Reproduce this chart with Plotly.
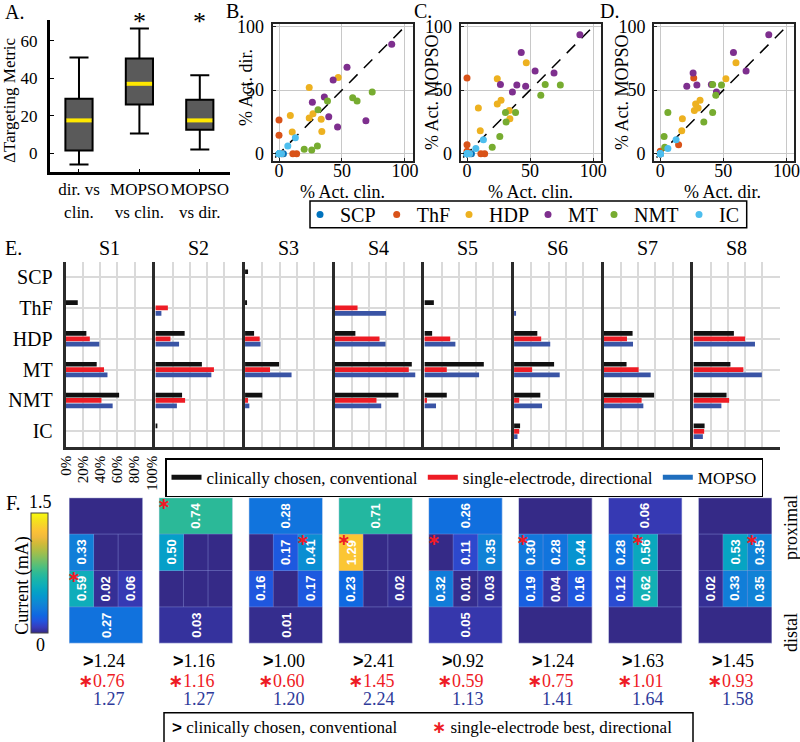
import plotly.graph_objects as go

W, H = 800, 742
SERIF = "Liberation Serif"
SANS = "Liberation Sans"
STAR = "<span style='font-family:DejaVu Sans;font-weight:bold'>∗</span>"


def px(p):
    return p / W


def py(p):
    return 1 - p / H


# ---------------- data ----------------
comparisons = ["dir. vs<br>clin.", "MOPSO<br>vs clin.", "MOPSO<br>vs dir."]
box_upper = [51, 66.5, 41.5]
box_q3 = [29, 50.5, 28.5]
box_median = [17.5, 37, 17.5]
box_q1 = [1.5, 26, 12.5]
box_lower = [-6, 10.5, 2]
significant = [False, True, True]

regions = ["SCP", "ThF", "HDP", "MT", "NMT", "IC"]
region_colors = ["#0072BD", "#D95319", "#EDB120", "#7E2F8E", "#77AC30", "#4DBEEE"]
subjects = ["S1", "S2", "S3", "S4", "S5", "S6", "S7", "S8"]

# % activation per subject, ordered as regions
act_clin = [
    [0, 14, 24, 36, 62, 0],
    [0, 0, 34, 54, 31, 2],
    [3.5, 2, 10.5, 39.5, 20, 0],
    [0, 0, 24, 89.5, 74, 0],
    [0, 11, 9, 69, 26, 0],
    [0, 0, 27, 46.5, 30.5, 7],
    [0, 0, 33.5, 26.5, 58.5, 0],
    [0, 0, 47, 43, 38.5, 13],
]
act_dir = [
    [0, 0, 28, 44.5, 41.5, 0],
    [0, 14.5, 17.5, 68, 34.5, 0],
    [0, 0, 17, 29, 3.5, 0],
    [0, 26.5, 52, 86, 48.5, 0],
    [0, 0, 30, 26, 3, 0],
    [0, 0, 31.5, 21, 6, 6],
    [0, 0, 27, 40.5, 44, 0],
    [0, 0, 60, 58, 41.5, 12.5],
]
act_mopso = [
    [0, 0, 39, 48.5, 54.5, 0],
    [0, 7, 27.5, 65, 25, 0],
    [0, 0, 18, 54, 5, 0],
    [0, 59.5, 59, 93.5, 54, 0],
    [0, 0, 36, 63.5, 13.5, 0],
    [0, 2, 42, 53, 32.5, 4],
    [0, 0, 34, 54.5, 46, 0],
    [0, 0, 71.5, 79.5, 32.5, 11],
]
methods = ["clinically chosen, conventional", "single-electrode, directional", "MOPSO"]
bar_colors = ["#111111", "#EE1C25", "#3A54A5"]
method_legend_colors = ["#111111", "#EE1C25", "#1F6EBE"]

# electrode currents (mA): top ring, upper segments, lower segments, bottom ring
ring_top = [0, 0.74, 0.28, 0.71, 0.26, 0, 0.06, 0]
seg_upper = [[0.33, 0, 0], [0.50, 0, 0], [0, 0.17, 0.41], [1.29, 0, 0],
             [0, 0.11, 0.35], [0.30, 0.28, 0.44], [0.28, 0.56, 0], [0, 0.53, 0.35]]
seg_lower = [[0.59, 0.02, 0.06], [0, 0, 0], [0.16, 0, 0.17], [0.23, 0, 0.02],
             [0.32, 0.01, 0.03], [0.19, 0.04, 0.16], [0.12, 0.62, 0], [0.02, 0.33, 0.35]]
ring_bottom = [0.27, 0.03, 0.01, 0, 0.05, 0, 0, 0]
conv_row = [1, 1, 1, 2, 0, 1, 2, 2]
best_row = [2, 0, 1, 1, 1, 1, 1, 1]
best_col = [0, 0, 2, 0, 0, 0, 1, 2]
total_clin = [1.24, 1.16, 1.00, 2.41, 0.92, 1.24, 1.63, 1.45]
total_dir = [0.76, 1.16, 0.60, 1.45, 0.59, 0.75, 1.01, 0.93]
total_mopso = [1.27, 1.27, 1.20, 2.24, 1.13, 1.41, 1.64, 1.58]

parula = [
    [0.00, "rgb(53,42,135)"], [0.05, "rgb(54,61,190)"], [0.10, "rgb(34,84,222)"],
    [0.15, "rgb(15,104,225)"], [0.20, "rgb(18,120,219)"], [0.25, "rgb(15,135,212)"],
    [0.30, "rgb(5,150,207)"], [0.35, "rgb(5,163,196)"], [0.40, "rgb(15,174,184)"],
    [0.45, "rgb(26,181,168)"], [0.50, "rgb(46,186,150)"], [0.55, "rgb(77,191,127)"],
    [0.60, "rgb(112,191,105)"], [0.65, "rgb(148,191,84)"], [0.70, "rgb(181,189,66)"],
    [0.75, "rgb(212,186,56)"], [0.80, "rgb(240,186,61)"], [0.85, "rgb(252,194,54)"],
    [0.90, "rgb(247,212,41)"], [0.95, "rgb(245,230,26)"], [1.00, "rgb(249,251,14)"],
]

fig = go.Figure()
ann = []
shapes = []

# ---------------- A: box plot ----------------
fig.add_trace(go.Box(
    x=[1, 2, 3], q1=box_q1, median=box_median, q3=box_q3,
    lowerfence=box_lower, upperfence=box_upper,
    width=0.45, whiskerwidth=0.7, boxpoints=False,
    fillcolor="#5a5a5a", line=dict(color="black", width=2),
    xaxis="x", yaxis="y", showlegend=False,
))
mx, my = [], []
for i, m in enumerate(box_median):
    mx += [i + 1 - 0.21, i + 1 + 0.21, None]
    my += [m, m, None]
fig.add_trace(go.Scatter(x=mx, y=my, mode="lines", line=dict(color="#FFE800", width=4),
                         xaxis="x", yaxis="y", showlegend=False))
for i, sig in enumerate(significant):
    if sig:
        ann.append(dict(x=i + 1, y=70, xref="x", yref="y", text="*",
                        font=dict(size=26, family=SERIF)))

# ---------------- B, C, D: scatter ----------------
pairs = [(act_clin, act_dir, 2), (act_clin, act_mopso, 3), (act_dir, act_mopso, 4)]
for xs, ys, k in pairs:
    shapes.append(dict(type="line", x0=-3, y0=-3, x1=100, y1=100, xref=f"x{k}", yref=f"y{k}",
                       line=dict(color="black", width=1.5, dash="12px,9px"), layer="between"))
    for r, name in enumerate(regions):
        fig.add_trace(go.Scatter(
            x=[s[r] for s in xs], y=[s[r] for s in ys], mode="markers",
            marker=dict(color=region_colors[r], size=7), name=name,
            legend=f"legend{r + 3}", showlegend=(k == 2), xaxis=f"x{k}", yaxis=f"y{k}",
        ))

# ---------------- E: bars ----------------
method_data = [act_clin, act_dir, act_mopso]
for s in range(8):
    k = 5 + s
    for m in range(3):
        fig.add_trace(go.Bar(
            x=method_data[m][s], y=list(range(1, 7)), orientation="h",
            marker=dict(color=bar_colors[m], line=dict(width=0)),
            xaxis=f"x{k}", yaxis=f"y{k}", showlegend=False,
        ))
for name, col in zip(methods, method_legend_colors):
    fig.add_trace(go.Scatter(x=[None], y=[None], mode="lines", line=dict(color=col, width=5),
                             name=name, legend="legend2", xaxis="x5", yaxis="y5"))

# ---------------- F: electrode heatmaps ----------------
for s in range(8):
    k = 13 + s
    xr, yr = f"x{k}", f"y{k}"
    z = [[ring_top[s]] * 3, seg_upper[s], seg_lower[s], [ring_bottom[s]] * 3]
    fig.add_trace(go.Heatmap(z=z, x=[0, 1, 2], y=[0, 1, 2, 3], coloraxis="coloraxis",
                             xaxis=xr, yaxis=yr, hoverinfo="skip"))
    lab = dict(xref=xr, yref=yr, textangle=-90,
               font=dict(size=13, family=SANS, color="white", weight="bold"))
    for row, v in ((0, ring_top[s]), (3, ring_bottom[s])):
        if v > 0:
            ann.append(dict(x=1, y=row, text=f"{v:.2f}", **lab))
    for row, vals in ((1, seg_upper[s]), (2, seg_lower[s])):
        for c, v in enumerate(vals):
            if v > 0:
                ann.append(dict(x=c, y=row, text=f"{v:.2f}", **lab))
    for yv in (0.5, 1.5, 2.5):
        shapes.append(dict(type="line", xref=xr, yref=yr, x0=-0.5, x1=2.5, y0=yv, y1=yv,
                           line=dict(color="rgba(140,150,220,0.45)", width=1)))
    for xv in (0.5, 1.5):
        shapes.append(dict(type="line", xref=xr, yref=yr, x0=xv, x1=xv, y0=0.5, y1=2.5,
                           line=dict(color="rgba(140,150,220,0.45)", width=1)))
    shapes.append(dict(type="rect", xref=xr, yref=yr, x0=-0.5, x1=2.5, y0=-0.5, y1=3.5,
                       line=dict(color="rgba(200,210,235,0.9)", width=1)))
    ann.append(dict(x=-0.9, y=conv_row[s], xref=xr, yref=yr, text="<b>&gt;</b>",
                    font=dict(size=22, family=SANS, color="black")))
    ann.append(dict(x=best_col[s] - 0.5 + 0.18, y=best_row[s] - 0.5 + 0.16, xref=xr, yref=yr,
                    text=STAR, font=dict(size=16, color="#EE1C25")))
    right = px(69 + 89.9 * s + 36.85 + 21)
    ann.append(dict(x=right, y=py(660.7), xref="paper", yref="paper", xanchor="right",
                    text=f"<span style='font-family:{SANS}'><b>&gt;</b></span>{total_clin[s]:.2f}",
                    font=dict(size=18, family=SERIF, color="black")))
    ann.append(dict(x=right, y=py(680.7), xref="paper", yref="paper", xanchor="right",
                    text=f"{STAR}{total_dir[s]:.2f}",
                    font=dict(size=18, family=SERIF, color="#EE1C25")))
    ann.append(dict(x=right, y=py(699.3), xref="paper", yref="paper", xanchor="right",
                    text=f"{total_mopso[s]:.2f}",
                    font=dict(size=18, family=SERIF, color="#2E3A9A")))

# ---------------- axes ----------------
axes = {}
axes["xaxis"] = dict(domain=[px(50), px(230)], range=[0.52, 3.5], tickvals=[1, 2, 3],
                     ticktext=comparisons, showline=True, linewidth=3, linecolor="black",
                     ticks="inside", ticklen=3, tickcolor="black", showgrid=False, zeroline=False,
                     tickangle=0, tickfont=dict(size=17, family=SERIF), anchor="y")
axes["yaxis"] = dict(domain=[py(172), py(20)], range=[-10, 71], tickvals=[0, 20, 40, 60],
                     showline=True, linewidth=3, linecolor="black", ticks="inside", ticklen=4,
                     tickcolor="black", showgrid=False, zeroline=False, ticklabelstandoff=6,
                     tickfont=dict(size=17, family=SERIF), anchor="x")

scatter_x = [(272.7, 412.5), (460.7, 600.7), (654, 794)]
for i, (x0, x1) in enumerate(scatter_x):
    k = i + 2
    common = dict(showline=True, mirror=True, linewidth=2, linecolor="#222", showgrid=True,
                  gridcolor="#c8c8c8", gridwidth=1.2, zeroline=False, tickvals=[0, 50, 100],
                  ticks="inside", ticklen=3, tickcolor="#222", tickangle=0,
                  tickfont=dict(size=18, family=SERIF))
    axes[f"xaxis{k}"] = dict(domain=[px(x0), px(x1)], range=[-5, 106], anchor=f"y{k}",
                             ticklabelstandoff=-7, **common)
    axes[f"yaxis{k}"] = dict(domain=[py(160.7), py(24)], range=[-5.5, 102], anchor=f"x{k}",
                             ticklabelstandoff=3, **common)

for s in range(8):
    k = 5 + s
    x0 = 65.7 + 89.67 * s
    axes[f"xaxis{k}"] = dict(domain=[px(x0), px(x0 + 87)], range=[0, 101], anchor=f"y{k}",
                             showline=True, linewidth=3, linecolor="#2b2b2b", showgrid=True,
                             gridcolor="#dadada", gridwidth=2, zeroline=False, dtick=20,
                             ticksuffix="%", tickangle=-90, showticklabels=(s == 0),
                             tickfont=dict(size=15, family=SERIF))
    axes[f"yaxis{k}"] = dict(domain=[py(446.7), py(261.7)], range=[6.5, 0.5], anchor=f"x{k}",
                             tickvals=list(range(1, 7)), ticktext=regions, showline=True,
                             linewidth=3, linecolor="#2b2b2b", showgrid=True, gridcolor="#dadada",
                             gridwidth=2, zeroline=False, showticklabels=(s == 0),
                             ticklabelstandoff=6, tickfont=dict(size=20, family=SERIF))
    ann.append(dict(x=px(x0 + 43.5), y=py(248), xref="paper", yref="paper", text=subjects[s],
                    font=dict(size=20, family=SERIF)))

for s in range(8):
    k = 13 + s
    x0 = 69 + 89.9 * s
    axes[f"xaxis{k}"] = dict(domain=[px(x0), px(x0 + 73.7)], range=[-0.5, 2.5], anchor=f"y{k}",
                             visible=False)
    axes[f"yaxis{k}"] = dict(domain=[py(643.3), py(497.7)], range=[3.5, -0.5], anchor=f"x{k}",
                             visible=False)

for a in axes.values():
    a["automargin"] = False

# ---------------- text ----------------
big = dict(size=20, family=SERIF)
for t, x, y in (("A.", 14, 12), ("B.", 235, 11), ("C.", 423, 11), ("D.", 609, 11),
                ("E.", 13, 248), ("F.", 13, 503)):
    ann.append(dict(x=px(x), y=py(y), xref="paper", yref="paper", text=t, font=big))

lbl = dict(size=18, family=SERIF)
ann.append(dict(x=px(9), y=py(100), xref="paper", yref="paper", text="ΔTargeting Metric",
                textangle=-90, font=dict(size=17, family=SERIF)))
for t, x, y in (("% Act. clin.", 342.6, 192), ("% Act. clin.", 530.7, 192),
                ("% Act. dir.", 722, 192)):
    ann.append(dict(x=px(x), y=py(y), xref="paper", yref="paper", text=t, font=lbl))
for t, x, y in (("% Act. dir.", 246, 88), ("% Act. MOPSO", 432, 92), ("% Act. MOPSO", 622, 92)):
    ann.append(dict(x=px(x), y=py(y), xref="paper", yref="paper", text=t, textangle=-90, font=lbl))

ann.append(dict(x=px(40), y=py(502), xref="paper", yref="paper", text="1.5", font=lbl))
ann.append(dict(x=px(40), y=py(645), xref="paper", yref="paper", text="0", font=lbl))
ann.append(dict(x=px(21.7), y=py(586), xref="paper", yref="paper", text="Current (mA)",
                textangle=-90, font=lbl))
ann.append(dict(x=px(791), y=py(528), xref="paper", yref="paper", text="proximal",
                textangle=-90, font=lbl))
ann.append(dict(x=px(791), y=py(633), xref="paper", yref="paper", text="distal",
                textangle=-90, font=lbl))

# scatter legend frame
shapes.append(dict(type="rect", xref="paper", yref="paper", x0=px(310), x1=px(746.7),
                   y0=py(227.7), y1=py(201), line=dict(color="black", width=1.5)))
# F legend box
leg = dict(size=17, family=SERIF)
shapes.append(dict(type="rect", xref="paper", yref="paper", x0=px(164), x1=px(693),
                   y0=py(748), y1=py(712.7), line=dict(color="black", width=1.5)))
ann.append(dict(x=px(170), y=py(727), xref="paper", yref="paper", xanchor="left",
                text=f"<span style='font-family:{SANS}'><b>&gt;</b></span> clinically chosen, conventional",
                font=leg))
ann.append(dict(x=px(430), y=py(727), xref="paper", yref="paper", xanchor="left",
                text=f"<span style='color:#EE1C25'>{STAR}</span> single-electrode best, directional",
                font=leg))

for a in ann:
    a.setdefault("showarrow", False)
    a.setdefault("xanchor", "center")
    a.setdefault("yanchor", "middle")

legends = {}
dot_x = [320, 396.7, 469, 548, 614, 699]
for r, dx in enumerate(dot_x):
    legends[f"legend{r + 3}"] = dict(
        x=px(dx - 20), y=py(214.5), xanchor="left", yanchor="middle", orientation="h",
        font=dict(size=20, family=SERIF), borderwidth=0, itemwidth=30,
        itemsizing="trace", bgcolor="rgba(0,0,0,0)")

fig.update_layout(
    template="none",
    width=W, height=H, margin=dict(l=0, r=0, t=0, b=0, pad=0),
    paper_bgcolor="white", plot_bgcolor="white",
    font=dict(family=SERIF, color="black"),
    barmode="group", bargap=0.48, bargroupgap=0.12,
    coloraxis=dict(colorscale=parula, cmin=0, cmax=1.5,
                   colorbar=dict(x=px(31), xanchor="left", y=py(573.3), yanchor="middle",
                                 len=120, lenmode="pixels", thickness=17, thicknessmode="pixels",
                                 outlinewidth=1, outlinecolor="#444", showticklabels=False,
                                 ticks="", xpad=0, ypad=0)),
    legend2=dict(x=px(165), y=py(458.3), xanchor="left", yanchor="top", orientation="h",
                 font=dict(size=17, family=SERIF), bordercolor="black", borderwidth=1.5,
                 itemwidth=30, bgcolor="white"),
    annotations=ann, shapes=shapes,
    **legends,
    **axes,
)

fig.write_html("out.html", config={"displayModeBar": False},
               post_script="document.body.style.margin='0';")
